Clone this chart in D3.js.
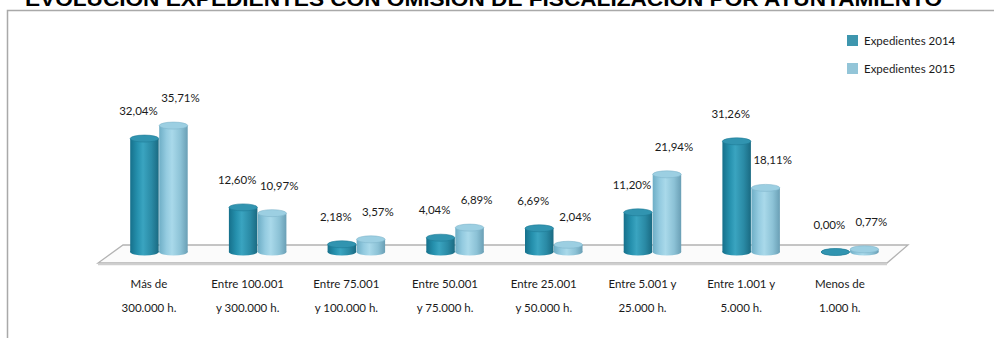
<!DOCTYPE html>
<html>
<head>
<meta charset="utf-8">
<script src="https://cdn.jsdelivr.net/npm/d3@7"></script>
<style>
	html, body { margin: 0; padding: 0; background: #fff; }
	svg { display: block; }
	.lbl { font-family: Lato, "Open Sans", sans-serif; font-size: 11.5px; fill: #1a1a1a; }
	.title { font-family: "Liberation Sans", Arial, sans-serif; font-weight: bold; font-size: 20px; fill: #000; }
</style>
</head>
<body>
<script>
	'use strict';

	// chart data
	var categories = [
		["Más de", "300.000 h."],
		["Entre 100.001", "y 300.000 h."],
		["Entre 75.001", "y 100.000 h."],
		["Entre 50.001", "y 75.000 h."],
		["Entre 25.001", "y 50.000 h."],
		["Entre 5.001 y", "25.000 h."],
		["Entre 1.001 y", "5.000 h."],
		["Menos de", "1.000 h."]
	];
	var seriesNames = ["Expedientes 2014", "Expedientes 2015"];
	var values2014 = [32.04, 12.60, 2.18, 4.04, 6.69, 11.20, 31.26, 0.00];
	var values2015 = [35.71, 10.97, 3.57, 6.89, 2.04, 21.94, 18.11, 0.77];
	var titleText = "EVOLUCION EXPEDIENTES CON OMISION DE FISCALIZACION POR AYUNTAMIENTO";

	var width = 994, height = 338;

	var svg = d3.select("body").append("svg")
		.attr("width", width)
		.attr("height", height);

	// spanish number format, 32,04%
	var esLocale = d3.formatLocale({ decimal: ",", thousands: ".", grouping: [3], currency: ["", " €"] });
	var fmt = function(v) { return esLocale.format(".2f")(v) + "%"; };

	// scales
	var catIdx = d3.range(categories.length);
	var x0 = d3.scaleBand().domain(catIdx).range([109.6, 899.2]).padding(0);
	var x1 = d3.scaleBand().domain(seriesNames).range([-29, 29]).padding(0);
	var y = d3.scaleLinear().domain([0, 40]).range([252, 252 - 3.54 * 40]);
	var ry = 3.5;
	var barW = 28.5;

	var data = [];
	catIdx.forEach(function(i) {
		data.push({ i: i, s: 0, v: values2014[i] });
		data.push({ i: i, s: 1, v: values2015[i] });
	});

	// gradients for cylinders
	var defs = svg.append("defs");
	var palettes = [
		{ id: "g2014", stops: ["#16708b", "#2590ad", "#3aa4c0", "#2a8aa5", "#1a6a82"], cap: "#3194b0", legend: "#3e96ae" },
		{ id: "g2015", stops: ["#6eaec6", "#94cbe0", "#a9d9ea", "#8cc2d6", "#6a9fb5"], cap: "#9ccfe2", legend: "#93c5d8" }
	];
	palettes.forEach(function(p) {
		var g = defs.append("linearGradient").attr("id", p.id)
			.attr("x1", "0%").attr("x2", "100%").attr("y1", "0%").attr("y2", "0%");
		var offs = [0, 0.25, 0.45, 0.75, 1];
		p.stops.forEach(function(c, k) {
			g.append("stop").attr("offset", offs[k]).attr("stop-color", c);
		});
	});

	// title, cut off at the top
	var r = x0.range();
	svg.append("text").attr("class", "title")
		.attr("x", 25).attr("y", 6)
		.attr("textLength", 917).attr("lengthAdjust", "spacingAndGlyphs")
		.text(titleText);

	// frame
	svg.append("path")
		.attr("d", "M7.5,338 V10.5 H994")
		.attr("fill", "none").attr("stroke", "#a9a9a9").attr("stroke-width", 1.5);

	// floor
	var yBack = 245, yFront = 263;
	var floorPts = [[r[0] + 13.4, yBack], [r[1] + 8.8, yBack], [r[1] - 12.2, yFront], [r[0] - 11.6, yFront]];
	svg.append("polygon")
		.attr("points", floorPts.map(function(p) { return p.join(","); }).join(" "))
		.attr("fill", "#fbfbfb").attr("stroke", "#b3b3b3").attr("stroke-width", 1.3);
	svg.append("line")
		.attr("x1", floorPts[3][0]).attr("x2", floorPts[2][0])
		.attr("y1", yFront + 1.2).attr("y2", yFront + 1.2)
		.attr("stroke", "#cfcfcf").attr("stroke-width", 2);

	// cylinders
	var bars = svg.append("g").selectAll("g.bar")
		.data(data).enter().append("g").attr("class", "bar");

	bars.each(function(d) {
		var g = d3.select(this);
		var cx = x0(d.i) + x0.bandwidth() / 2 + x1(seriesNames[d.s]) + x1.bandwidth() / 2;
		var yb = y(0), yt = y(d.v);
		var pal = palettes[d.s];
		var grad = "url(#" + pal.id + ")";
		g.append("ellipse").attr("cx", cx).attr("cy", yb)
			.attr("rx", barW / 2).attr("ry", ry).attr("fill", grad);
		g.append("rect").attr("x", cx - barW / 2).attr("y", yt)
			.attr("width", barW).attr("height", Math.max(0, yb - yt)).attr("fill", grad);
		g.append("ellipse").attr("cx", cx).attr("cy", yt)
			.attr("rx", barW / 2).attr("ry", ry).attr("fill", pal.cap)
			.attr("stroke", d.s === 0 ? "#1f7a95" : "#7fb6cb").attr("stroke-width", 0.6);
	});

	// value labels
	svg.append("g").selectAll("text")
		.data(data).enter().append("text").attr("class", "lbl")
		.attr("text-anchor", "middle")
		.attr("x", function(d) {
			return x0(d.i) + x0.bandwidth() / 2 + x1(seriesNames[d.s]) + x1.bandwidth() / 2 + (d.s === 0 ? -6 : 7);
		})
		.attr("y", function(d) { return y(d.v) - ry - 20; })
		.text(function(d) { return fmt(d.v); });

	// category labels, two lines
	var catG = svg.append("g").selectAll("g")
		.data(categories).enter().append("g")
		.attr("transform", function(d, i) { return "translate(" + (x0(i) + x0.bandwidth() / 2 - 10) + ",0)"; });
	catG.append("text").attr("class", "lbl").attr("text-anchor", "middle")
		.attr("y", 288).text(function(d) { return d[0]; });
	catG.append("text").attr("class", "lbl").attr("text-anchor", "middle")
		.attr("y", 312).text(function(d) { return d[1]; });

	// legend
	var legend = svg.append("g").selectAll("g")
		.data(seriesNames).enter().append("g")
		.attr("transform", function(d, i) { return "translate(847," + (35 + i * 28) + ")"; });
	legend.append("rect").attr("width", 11).attr("height", 11)
		.attr("fill", function(d, i) { return palettes[i].legend; });
	legend.append("text").attr("class", "lbl")
		.attr("x", 17).attr("y", 6).attr("dy", "0.35em")
		.text(function(d) { return d; });
</script>
</body>
</html>
